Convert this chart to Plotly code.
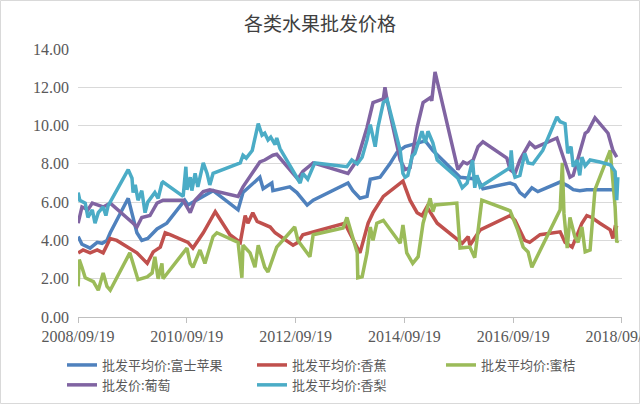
import pandas as pd
import plotly.graph_objects as go

# Time is stored as decimal years
apple_t = [2008.72, 2008.79, 2008.94, 2009.07, 2009.16, 2009.25, 2009.31, 2009.64, 2009.80, 2009.89,
           2010.00, 2010.17, 2010.35, 2010.54, 2010.68, 2010.74, 2011.20, 2011.66, 2011.75, 2012.06,
           2012.12, 2012.28, 2012.30, 2012.61, 2012.74, 2012.93, 2013.04, 2013.68, 2013.77, 2013.90,
           2014.03, 2014.09, 2014.27, 2014.45, 2014.58, 2014.73, 2015.10, 2015.24, 2015.74, 2016.07,
           2016.16, 2016.66, 2016.75, 2016.84, 2016.93, 2017.06, 2017.17, 2017.58, 2017.72, 2017.82,
           2017.94, 2018.07, 2018.53, 2018.64]
apple_v = [4.2, 3.8, 3.6, 3.9, 3.85, 4.0, 4.4, 6.2, 4.4, 4.0,
           4.1, 4.6, 4.9, 5.6, 6.1, 5.85, 6.6, 5.6, 6.5, 7.3,
           6.7, 7.0, 6.6, 6.8, 6.5, 5.85, 6.1, 7.0, 6.6, 6.2,
           6.3, 7.2, 7.3, 8.0, 8.6, 8.9, 9.2, 8.7, 7.3, 7.2,
           6.7, 7.0, 6.9, 6.5, 6.3, 6.75, 6.55, 7.05, 6.85, 6.65,
           6.6, 6.65, 6.65, 6.6]

banana_t = [2008.72, 2008.81, 2008.94, 2009.07, 2009.18, 2009.31, 2009.43, 2009.80, 2009.99, 2010.10,
            2010.23, 2010.32, 2010.41, 2010.74, 2010.83, 2011.02, 2011.24, 2011.51, 2011.70, 2011.79,
            2011.84, 2011.93, 2012.01, 2012.25, 2012.34, 2012.67, 2012.76, 2012.85, 2013.62, 2013.85,
            2013.90, 2014.05, 2014.14, 2014.33, 2014.45, 2014.69, 2014.82, 2014.95, 2015.04, 2015.13,
            2015.32, 2015.78, 2015.89, 2015.92, 2016.11, 2016.66, 2016.75, 2016.84, 2016.93, 2017.02,
            2017.21, 2017.58, 2017.67, 2017.80, 2017.98, 2018.07, 2018.16, 2018.31, 2018.50, 2018.55,
            2018.59, 2018.64]
banana_v = [3.35, 3.5, 3.35, 3.5, 3.35, 4.1, 4.0, 3.35, 2.8, 3.4,
            3.65, 4.4, 4.3, 3.9, 3.6, 4.4, 5.5, 4.3, 3.9, 5.3,
            4.9, 5.45, 5.0, 4.7, 4.4, 3.75, 3.9, 4.3, 4.9, 3.65,
            3.35, 4.9, 5.45, 6.3, 6.55, 7.1, 6.1, 5.45, 5.3, 5.75,
            4.9, 3.85, 4.2, 3.75, 4.55, 5.3, 5.05, 4.55, 4.0, 3.9,
            4.3, 4.45, 3.9, 3.65, 4.9, 5.3, 5.2, 4.9, 4.55, 4.1,
            4.7, 4.65]

mandarin_t = [2008.72, 2008.74, 2008.79, 2008.85, 2009.00, 2009.09, 2009.18, 2009.25, 2009.31, 2009.67,
              2009.82, 2009.99, 2010.08, 2010.13, 2010.19, 2010.26, 2010.28, 2010.72, 2010.78, 2010.83,
              2010.96, 2011.05, 2011.20, 2011.27, 2011.66, 2011.73, 2011.75, 2011.88, 2011.97, 2012.03,
              2012.15, 2012.21, 2012.37, 2012.70, 2012.76, 2012.89, 2012.98, 2013.04, 2013.59, 2013.66,
              2013.85, 2013.86, 2013.94, 2014.03, 2014.09, 2014.14, 2014.21, 2014.33, 2014.64, 2014.69,
              2014.76, 2014.87, 2014.97, 2015.06, 2015.19, 2015.24, 2015.28, 2015.68, 2015.74, 2015.92,
              2016.01, 2016.14, 2016.66, 2016.80, 2016.90, 2016.99, 2017.06, 2017.58, 2017.62, 2017.65,
              2017.71, 2017.76, 2017.85, 2017.91, 2017.98, 2018.04, 2018.13, 2018.22, 2018.50, 2018.59,
              2018.62, 2018.64]
mandarin_v = [1.6, 3.0, 2.6, 2.05, 1.85, 1.4, 2.3, 1.6, 1.4, 3.35,
              1.95, 2.1, 2.3, 3.15, 2.0, 2.8, 2.0, 3.6, 2.8, 2.6,
              3.5, 2.8, 4.2, 4.4, 3.9, 2.05, 3.75, 3.35, 2.6, 3.75,
              2.6, 2.35, 3.65, 4.7, 4.0, 3.5, 3.15, 4.3, 4.65, 5.2,
              3.35, 2.05, 2.1, 3.35, 4.7, 4.0, 4.9, 5.05, 3.85, 4.8,
              3.35, 2.8, 3.15, 4.9, 6.2, 5.5, 5.85, 5.95, 3.6, 3.65,
              3.1, 6.1, 5.55, 4.55, 3.65, 3.4, 2.6, 5.6, 8.05, 5.4,
              3.6, 5.2, 4.2, 3.9, 4.7, 3.4, 3.5, 6.65, 8.7, 5.75,
              3.9, 4.0]

grape_t = [2008.72, 2008.79, 2008.90, 2008.98, 2009.18, 2009.31, 2009.73, 2009.80, 2009.89, 2010.04,
           2010.17, 2010.28, 2010.65, 2010.74, 2010.78, 2010.87, 2011.02, 2011.14, 2011.66, 2011.75,
           2012.06, 2012.15, 2012.30, 2012.37, 2012.76, 2012.80, 2012.85, 2013.04, 2013.68, 2013.85,
           2014.03, 2014.14, 2014.27, 2014.33, 2014.36, 2014.40, 2014.64, 2014.73, 2014.82, 2014.95,
           2015.06, 2015.19, 2015.22, 2015.28, 2015.70, 2015.80, 2015.87, 2015.98, 2016.07, 2016.16,
           2016.60, 2016.66, 2016.75, 2016.84, 2017.02, 2017.12, 2017.52, 2017.62, 2017.76, 2017.82,
           2017.94, 2018.04, 2018.09, 2018.22, 2018.46, 2018.55, 2018.62]
grape_v = [4.9, 5.75, 5.6, 5.95, 5.75, 5.95, 4.9, 4.7, 5.2, 5.3,
           5.95, 6.1, 6.1, 5.6, 5.45, 6.1, 6.55, 6.65, 6.3, 6.8,
           8.1, 8.2, 8.45, 8.5, 7.2, 7.4, 7.6, 8.05, 7.5, 8.2,
           9.9, 11.2, 11.35, 11.4, 12.0, 11.3, 8.2, 7.7, 7.8, 9.9,
           11.2, 11.45, 11.3, 12.8, 7.7, 8.1, 8.0, 8.2, 8.9, 9.15,
           8.3, 7.7, 7.5, 8.2, 9.1, 8.85, 9.35, 8.55, 7.3, 7.4,
           8.55, 9.6, 9.7, 10.4, 9.6, 8.7, 8.35]

pear_t = [2008.72, 2008.75, 2008.85, 2008.90, 2008.98, 2009.03, 2009.09, 2009.18, 2009.23, 2009.27,
          2009.64, 2009.71, 2009.73, 2009.77, 2009.82, 2009.89, 2009.95, 2010.00, 2010.13, 2010.19,
          2010.26, 2010.28, 2010.65, 2010.70, 2010.72, 2010.78, 2010.81, 2010.87, 2010.92, 2011.02,
          2011.09, 2011.14, 2011.20, 2011.70, 2011.75, 2011.81, 2011.92, 2012.03, 2012.10, 2012.15,
          2012.21, 2012.26, 2012.34, 2012.37, 2012.43, 2012.74, 2012.80, 2012.85, 2012.94, 2013.07,
          2013.66, 2013.75, 2013.85, 2013.94, 2014.03, 2014.09, 2014.18, 2014.23, 2014.33, 2014.40,
          2014.64, 2014.69, 2014.73, 2014.78, 2014.86, 2014.91, 2015.04, 2015.10, 2015.15, 2015.24,
          2015.32, 2015.70, 2015.78, 2015.87, 2015.97, 2016.01, 2016.05, 2016.11, 2016.16, 2016.66,
          2016.68, 2016.71, 2016.75, 2016.84, 2016.93, 2016.99, 2017.08, 2017.26, 2017.52, 2017.58,
          2017.67, 2017.72, 2017.78, 2017.82, 2017.89, 2017.94, 2017.98, 2018.04, 2018.13, 2018.31,
          2018.50, 2018.59, 2018.62, 2018.64]
pear_v = [6.5, 6.1, 5.95, 5.2, 5.6, 4.9, 5.45, 5.75, 5.3, 5.8,
          7.7, 7.25, 6.5, 6.9, 6.1, 6.6, 5.45, 6.0, 6.5, 6.2,
          7.0, 7.05, 6.3, 7.85, 6.65, 7.3, 6.6, 7.5, 6.8, 8.05,
          7.5, 6.9, 7.5, 8.05, 8.45, 8.3, 8.7, 10.1, 9.5, 9.6,
          9.25, 9.4, 9.0, 9.35, 8.8, 7.3, 7.0, 7.5, 7.2, 8.05,
          7.85, 8.2, 8.0, 8.35, 9.25, 10.05, 8.9, 9.9, 11.2, 11.35,
          8.7, 7.5, 7.3, 7.4, 8.4, 8.55, 9.7, 9.1, 9.7, 9.1,
          8.2, 7.25, 6.75, 7.0, 8.2, 6.75, 7.4, 6.8, 6.9, 7.8,
          8.7, 7.7, 7.3, 7.4, 8.55, 8.05, 8.0, 8.7, 10.45, 10.2,
          10.1, 8.55, 8.9, 7.85, 8.2, 7.4, 8.35, 7.9, 8.2, 8.1,
          7.95, 7.6, 6.1, 7.3]

series_names = ["批发平均价:富士苹果", "批发平均价:香蕉", "批发平均价:蜜桔", "批发价:葡萄", "批发平均价:香梨"]
series_colors = ["#4F81BD", "#C0504D", "#9BBB59", "#8064A2", "#4BACC6"]
# legend column each series sits in (Excel-style 3-column legend)
series_legend = ["legend", "legend2", "legend3", "legend", "legend2"]
tick_dates = ["2008-09-19", "2010-09-19", "2012-09-19", "2014-09-19", "2016-09-19", "2018-09-19"]
tick_labels = ["2008/09/19", "2010/09/19", "2012/09/19", "2014/09/19", "2016/09/19", "2018/09/19"]
y_ticks = [0, 2, 4, 6, 8, 10, 12, 14]


def to_dates(ts):
    base = pd.Timestamp("2008-01-01")
    return [base + pd.Timedelta(days=(t - 2008.0) * 365.25) for t in ts]


W, H = 640, 404
ML, MR, MT, MB = 78, 18, 49, 87

fig = go.Figure()
for t, v, name, col, lg in zip([apple_t, banana_t, mandarin_t, grape_t, pear_t],
                               [apple_v, banana_v, mandarin_v, grape_v, pear_v],
                               series_names, series_colors, series_legend):
    fig.add_trace(go.Scatter(x=to_dates(t), y=v, mode="lines", name=name, legend=lg,
                             line=dict(color=col, width=3.5)))

pw = W - ML - MR
ph = H - MT - MB
fig.add_shape(type="rect", xref="paper", yref="paper",
              x0=(-ML + 0.5) / pw, x1=(pw + MR - 0.5) / pw,
              y0=(-MB + 0.5) / ph, y1=(ph + MT - 0.5) / ph,
              line=dict(color="#D9D9D9", width=1), layer="below")

legend_font = dict(family="Noto Sans CJK SC", size=13, color="#595959")


def legend_box(xpix):
    return dict(orientation="h", xref="container", x=xpix / W, xanchor="left",
                yref="container", y=1 - 350 / H, yanchor="top",
                entrywidth=300, entrywidthmode="pixels",
                font=legend_font, tracegroupgap=0, itemwidth=30,
                bgcolor="rgba(0,0,0,0)")


l3 = legend_box(441)
l3["entrywidth"] = 140

fig.update_layout(
    width=W, height=H,
    margin=dict(l=ML, r=MR, t=MT, b=MB),
    paper_bgcolor="white", plot_bgcolor="white",
    title=dict(text="各类水果批发价格", x=0.5, xanchor="center", y=1 - 24 / H, yanchor="middle",
               yref="container",
               font=dict(family="Noto Sans CJK SC", size=19, color="#404040")),
    xaxis=dict(type="date", range=["2008-09-19", "2018-09-19 06:00"],
               tickvals=tick_dates, ticktext=tick_labels,
               showgrid=False, showline=True, linecolor="#BFBFBF", linewidth=1,
               ticks="outside", ticklen=5, tickcolor="#BFBFBF",
               ticklabeloverflow="allow",
               tickfont=dict(family="Liberation Serif", size=16, color="#595959"),
               automargin=False, zeroline=False),
    yaxis=dict(range=[0, 14], tickvals=y_ticks, tickformat=".2f",
               showgrid=True, gridcolor="#D9D9D9", gridwidth=1,
               showline=False, zeroline=False, ticks="",
               ticklabelstandoff=8,
               tickfont=dict(family="Liberation Serif", size=16, color="#595959"),
               automargin=False),
    legend=legend_box(62),
    legend2=legend_box(252),
    legend3=l3,
    showlegend=True,
)

fig.write_html("out.html")
